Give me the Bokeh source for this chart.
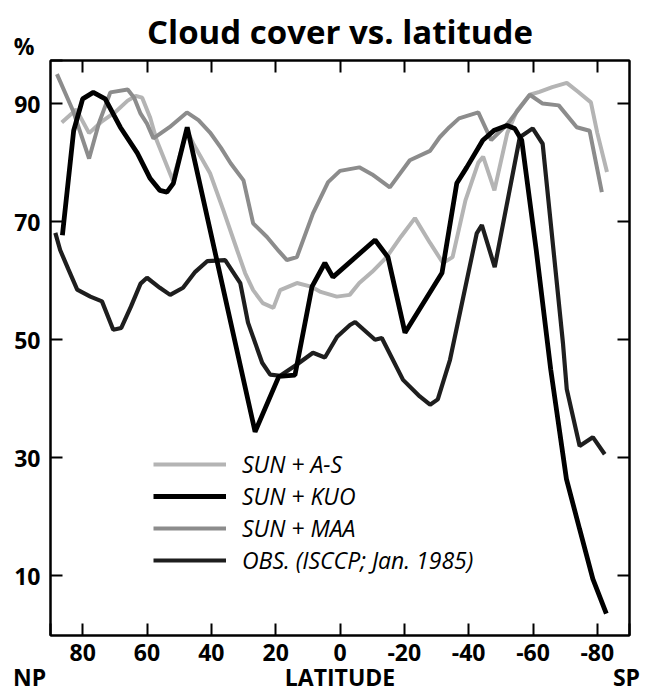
from bokeh.plotting import figure
from bokeh.models import Range1d, LinearAxis, FixedTicker, Legend, LegendItem
from bokeh.embed import file_html
from bokeh.resources import INLINE

# ---------------- data ----------------
lat_as = [86.5, 82, 78, 74, 70, 66, 63.5, 61.5, 59, 57, 52, 47.6, 45.6, 40.4, 36.3, 32, 29.5, 27, 24,
          20.7, 18.6, 13.4, 9, 6, 1, -3, -6, -10, -14.5, -19, -23.3, -28, -32, -35, -39, -43, -44.5,
          -48, -52, -55, -59, -62, -66, -70.5, -74, -78, -80, -83]
cc_as = [86.8, 89, 85, 87, 88.5, 90.5, 91.3, 91, 87.6, 83.8, 77, 85.4, 83.2, 78.2, 72, 65.2, 61.3, 58.4, 56.2,
         55.4, 58.4, 59.6, 59, 58.1, 57.3, 57.6, 59.6, 61.5, 64, 67.5, 70.6, 66.4, 63, 64, 73.6, 80, 81,
         75.3, 85, 88.8, 91.5, 92, 92.8, 93.5, 92, 90.2, 85, 78.4]

lat_maa = [88, 83, 78, 75, 71.4, 66, 64, 62, 60, 58, 53, 47.6, 44, 40.4, 37, 34, 30, 27, 22.7, 19, 16.5,
           13.4, 8.4, 3.7, 0, -6, -10, -15.5, -21.7, -28, -31, -34, -37, -43, -47, -52, -59, -63, -68,
           -73.6, -77.6, -81.4]
cc_maa = [95, 88.8, 80.7, 86.6, 91.9, 92.4, 91, 88.3, 86.6, 84.1, 86, 88.5, 87.2, 85.1, 82.5, 79.9, 77, 69.7,
          67.4, 65, 63.5, 64, 71.4, 76.7, 78.6, 79.2, 78, 75.8, 80.4, 82, 84.3, 86, 87.5, 88.5, 83.8, 86.5,
          91.5, 90, 89.7, 86, 85.4, 75]

lat_kuo = [86.3, 82.8, 80, 76.7, 73, 68.3, 63, 59, 56, 53.8, 51.8, 47.5, 26.4, 19, 14, 8.7, 4.7, 2.2,
           -10.9, -14.9, -20.2, -31.7, -36.3, -39.4, -44.4, -48, -51.9, -54.3, -56.5, -61, -65.5, -70.4,
           -74.5, -78.6, -82.8]
cc_kuo = [67.7, 85.4, 90.8, 91.9, 90.8, 86, 81.6, 77.3, 75.3, 75, 76.5, 86, 34.4, 43.8, 44, 59, 63, 60.6,
          66.9, 64, 51.2, 61.3, 76.5, 79.2, 83.8, 85.5, 86.3, 85.8, 83.8, 65.2, 45, 26.4,
          17.9, 9.5, 3.6]

lat_obs = [88.5, 87, 84.5, 81.7, 77.6, 74, 70.5, 68, 65, 62, 60, 56, 52.8, 48.8, 45, 41.3, 35.7, 31, 28.6,
           24.2, 21.7, 18.6, 13.4, 8.4, 4.7, 0.9, -3.1, -4.7, -10.9, -13, -19.6, -24.8, -28, -30.4, -34.2,
           -42.5, -44.1, -48.1, -55.9, -59.9, -63, -69.3, -70.5, -74.5, -78.6, -82.3]
cc_obs = [68.1, 65.2, 62, 58.5, 57.3, 56.5, 51.7, 52, 55.6, 59.5, 60.5, 58.8, 57.6, 58.8, 61.5, 63.3, 63.5,
          59.6, 52.9, 46.1, 44.1, 43.9, 45.8, 47.8, 47, 50.5, 52.5, 53, 50, 50.3, 43.2, 40.4, 39, 39.9, 46.6,
          68, 69.4, 62.3, 84.3, 85.8, 83.2, 49.5, 41.6, 32, 33.5, 30.6]

x_ticks = [80, 60, 40, 20, 0, -20, -40, -60, -80]
x_tick_labels = ["80", "60", "40", "20", "0", "-20", "-40", "-60", "-80"]
y_ticks = [10, 30, 50, 70, 90]
y_tick_labels = ["10", "30", "50", "70", "90"]
x_title = "LATITUDE"
pole_labels = ["NP", "SP"]
y_unit = "%"
chart_title = "Cloud cover vs. latitude"
series_names = ["SUN + A-S", "SUN + KUO", "SUN + MAA", "OBS. (ISCCP; Jan. 1985)"]

FONT = "Open Sans"
NB = "\u00a0"
X_LO, X_HI = 90, -90
Y_LO, Y_HI = -0.1, 97.3

p = figure(width=646, height=698, output_backend="svg", toolbar_location=None,
           x_range=Range1d(X_LO, X_HI), y_range=Range1d(Y_LO, Y_HI),
           min_border_left=50, min_border_right=17, min_border_top=60, min_border_bottom=63,
           x_axis_location=None, y_axis_location=None)
p.grid.visible = False
p.outline_line_color = "black"
p.outline_line_width = 2
p.background_fill_color = "white"
p.border_fill_color = "white"

p.title.text = chart_title
p.title.align = "center"
p.title.text_font = FONT
p.title.text_font_size = "33px"
p.title.text_font_style = "bold"
p.title.text_color = "black"
p.title.standoff = 13


def make_axis(ticks, overrides=None):
    ax = LinearAxis(ticker=FixedTicker(ticks=ticks))
    ax.major_tick_in = 12
    ax.major_tick_out = 0
    ax.minor_tick_in = 0
    ax.minor_tick_out = 0
    ax.axis_line_width = 2
    ax.axis_line_color = "black"
    ax.major_tick_line_width = 2
    ax.major_tick_line_color = "black"
    if overrides is not None:
        ax.major_label_overrides = overrides
        ax.major_label_text_font = FONT
        ax.major_label_text_font_style = "bold"
        ax.major_label_text_font_size = "23px"
        ax.major_label_text_color = "black"
        ax.major_label_text_line_height = 1.0
    else:
        ax.major_label_text_color = None
        ax.major_label_text_font_size = "1px"
        ax.major_label_standoff = 0
    return ax


# bottom axis: numeric latitude labels, the pole names under the frame corners
# and the axis title under "0" (second line of the tick labels)
x_over = dict(zip(x_ticks, x_tick_labels))
x_over[0] = x_tick_labels[x_ticks.index(0)] + "\n" + x_title
np_tick, sp_tick = X_LO - 0.01, X_HI + 0.01
x_over[np_tick] = "\n" + pole_labels[0] + NB * 7
x_over[sp_tick] = "\n" + pole_labels[1] + NB
xb = make_axis(x_ticks + [np_tick, sp_tick], x_over)
xb.major_label_standoff = 0
xb.major_label_text_line_height = 0.8
p.add_layout(xb, "below")

# left axis: numeric labels plus the unit sign at the top corner
y_over = dict(zip(y_ticks, y_tick_labels))
unit_tick = Y_HI - 0.01
y_over[unit_tick] = y_unit + NB + "\n"
yl = make_axis(y_ticks + [unit_tick], y_over)
yl.major_label_standoff = 10
yl.major_label_text_line_height = 0.9
p.add_layout(yl, "left")

p.add_layout(make_axis(x_ticks), "above")
p.add_layout(make_axis(y_ticks), "right")

r_as = p.line(lat_as, cc_as, line_color="#b4b4b4", line_width=4)
r_maa = p.line(lat_maa, cc_maa, line_color="#8c8c8c", line_width=4)
r_obs = p.line(lat_obs, cc_obs, line_color="#1e1e1e", line_width=4.2)
r_kuo = p.line(lat_kuo, cc_kuo, line_color="black", line_width=4.8)

legend = Legend(items=[LegendItem(label=series_names[0], renderers=[r_as]),
                       LegendItem(label=series_names[1], renderers=[r_kuo]),
                       LegendItem(label=series_names[2], renderers=[r_maa]),
                       LegendItem(label=series_names[3], renderers=[r_obs])],
                location=(103, 59), orientation="vertical",
                glyph_width=73, glyph_height=20, label_height=20, spacing=0,
                padding=0, margin=0, label_standoff=16,
                label_text_font=FONT, label_text_font_style="italic",
                label_text_font_size="23px", label_text_color="black",
                label_text_line_height=0.85,
                border_line_color=None, background_fill_alpha=0)
p.add_layout(legend)

open("out.html", "w").write(file_html(p, INLINE))
